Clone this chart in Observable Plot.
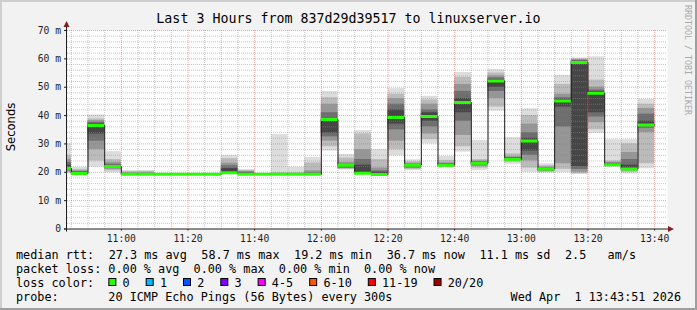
<!DOCTYPE html>
<html><head><meta charset="utf-8">
<script src="https://cdn.jsdelivr.net/npm/d3@7"></script>
<script src="https://cdn.jsdelivr.net/npm/@observablehq/plot@0.6"></script>
<style>
html,body{margin:0;padding:0;background:#f2f2f2;}
#chart{width:697px;height:310px;}
text{white-space:pre;}
</style></head><body><div id="chart"></div>
<script>
// ---- data ----
const times = ["10:40","10:45","10:50","10:55","11:00","11:05","11:10","11:15","11:20","11:25","11:30","11:35","11:40","11:45","11:50","11:55","12:00","12:05","12:10","12:15","12:20","12:25","12:30","12:35","12:40","12:45","12:50","12:55","13:00","13:05","13:10","13:15","13:20","13:25","13:30","13:35"];
const median = [21.4,19.6,36.5,22.0,19.3,19.3,19.3,19.3,19.3,19.3,19.8,19.3,19.3,19.3,19.3,19.3,38.6,22.5,19.7,19.2,39.3,22.5,39.7,22.5,44.6,23.2,52.2,24.6,31.0,21.2,45.1,58.7,47.9,22.7,21.2,36.7];
// smoke bands, outermost (1) to innermost (5)
const lo1 = [19.5,19.3,21.8,19.8,19.2,19.2,19.1,19.1,19.1,19.1,19.4,19.1,19.1,19.2,19.2,19.2,27.5,20.8,19.4,19.1,25.8,20.6,30.0,21.6,27.1,20.6,41.6,22.8,20.0,19.7,19.9,19.2,33.7,21.8,19.4,21.2];
const hi1 = [30.1,21.7,40.2,27.3,20.6,20.6,19.6,19.6,19.6,19.6,25.9,21.0,19.6,33.3,21.8,25.2,48.5,26.3,34.7,28.0,49.5,24.4,46.8,25.6,55.2,31.2,56.2,32.2,42.4,23.0,54.2,60.3,60.7,31.5,31.5,45.7];
const lo2 = [19.8,19.4,24.0,20.5,19.2,19.2,19.2,19.2,19.2,19.2,19.5,19.2,19.2,19.2,19.2,19.2,29.0,21.0,19.5,19.2,28.0,21.0,31.5,21.8,29.0,21.5,43.0,23.5,21.5,20.0,21.0,19.5,35.0,22.0,20.0,23.0];
const hi2 = [26.0,21.0,38.8,24.5,20.2,20.3,19.5,19.5,19.5,19.5,24.8,20.6,19.5,19.8,19.8,23.3,46.3,25.0,33.5,24.5,47.5,23.7,45.5,24.2,53.5,24.5,55.0,26.5,40.0,22.3,51.0,60.0,52.5,24.0,30.0,44.0];
const lo3 = [20.2,19.5,28.0,21.0,19.2,19.2,19.2,19.2,19.2,19.2,19.6,19.2,19.2,19.2,19.2,19.2,31.0,21.3,19.6,19.3,31.0,21.3,33.5,22.0,33.0,22.0,46.0,24.0,24.0,20.3,23.0,20.0,37.5,22.3,20.5,34.0];
const hi3 = [24.5,20.5,38.2,23.5,19.8,19.8,19.4,19.4,19.4,19.4,23.2,20.3,19.4,19.6,19.6,20.5,44.0,23.5,28.0,21.5,46.0,23.2,44.0,23.3,51.0,24.0,54.0,25.5,37.0,21.8,47.5,59.7,50.0,23.5,27.0,42.5];
const lo4 = [20.6,19.6,31.0,21.4,19.2,19.2,19.2,19.2,19.2,19.2,19.7,19.3,19.2,19.3,19.3,19.3,32.5,21.5,19.7,19.4,35.0,21.6,36.0,22.1,38.0,22.5,48.5,24.3,26.0,20.5,36.0,21.0,39.5,22.4,20.8,35.5];
const hi4 = [23.5,20.2,37.6,22.8,19.6,19.6,19.4,19.4,19.4,19.4,22.3,20.0,19.4,19.5,19.5,19.8,41.0,22.8,24.5,20.5,44.0,22.8,42.0,23.0,48.5,23.7,53.3,25.2,34.0,21.5,46.3,59.4,49.0,23.2,24.5,40.5];
const lo5 = [21.0,19.6,33.5,21.7,19.2,19.2,19.2,19.2,19.2,19.2,19.8,19.3,19.2,19.3,19.3,19.3,33.8,21.8,19.8,19.4,37.0,21.9,38.0,22.2,41.0,22.8,50.0,24.5,27.5,20.7,43.0,22.0,41.0,22.5,21.0,36.3];
const hi5 = [22.5,20.0,37.0,22.4,19.5,19.5,19.4,19.4,19.4,19.4,21.3,19.7,19.4,19.4,19.4,19.5,38.8,22.3,22.5,20.0,42.0,22.6,41.0,22.8,46.0,23.5,52.7,25.0,32.0,21.3,45.8,59.1,48.5,23.0,22.5,38.0];
const smokeColors = ["#dddddd","#bbbbbb","#969696","#6e6e6e","#464646"];

const yTicks = [0,10,20,30,40,50,60,70];
const yTickLabels = ["0","10 m","20 m","30 m","40 m","50 m","60 m","70 m"];
const xTickLabels = ["11:00","11:20","11:40","12:00","12:20","12:40","13:00","13:20","13:40"];

const titleText = "Last 3 Hours from 837d29d39517 to linuxserver.io";
const yLabel = "Seconds";
const rttItems = ["median rtt:","27.3 ms avg","58.7 ms max","19.2 ms min","36.7 ms now","11.1 ms sd","2.5   am/s"];
const lossLine = "packet loss: 0.00 % avg  0.00 % max  0.00 % min  0.00 % now";
const lossLabels = ["0","1","2","3","4-5","6-10","11-19","20/20"];
const lossColors = ["#26ff00","#00b8ff","#0059ff","#7e00ff","#ff00ff","#ff5500","#ff0000","#a10000"];
const probeLine = "probe:       20 ICMP Echo Pings (56 Bytes) every 300s";
const dateText = "Wed Apr  1 13:43:51 2026";
const watermark = "RRDTOOL / TOBI OETIKER";

// ---- build ----
const T = s => { const [h,m,sec=0] = s.split(":").map(Number); return new Date(Date.UTC(2026,3,1,h,m,sec)); };
const STEP = 5*60*1000;
const lows = [lo1,lo2,lo3,lo4,lo5], highs = [hi1,hi2,hi3,hi4,hi5];
const bars = times.map((t,i) => ({t0: T(t), t1: new Date(+T(t)+STEP), med: median[i], lo: lows.map(a=>a[i]), hi: highs.map(a=>a[i])}));
const stepData = bars.map(b => ({t: b.t0, v: b.med})).concat([{t: bars[bars.length-1].t1, v: bars[bars.length-1].med}]);

const tStart = T("10:43:51"), tEnd = T("13:43:51");
const xTicks = xTickLabels.map(T);
const xLabelMap = new Map(xTicks.map((d,i)=>[+d, xTickLabels[i]]));
const yLabelMap = new Map(yTicks.map((d,i)=>[d, yTickLabels[i]]));
const all5 = d3.utcMinute.every(5).range(tStart, tEnd);
const xMinor = all5.filter(d => d.getUTCMinutes() % 20 !== 0);
const xMajor = all5.filter(d => d.getUTCMinutes() % 20 === 0);
const yMinor = d3.range(2, 70, 2).filter(v => v % 10 !== 0);
const yMajor = yTicks.filter(v => v > 0);

const W = 697, H = 310;
const ML = 67, MR = 30, MT = 30, MB = 81.5;
const gridMinor = {stroke: "#8f8f8f", strokeOpacity: 0.5, strokeDasharray: "1,1", strokeWidth: 1};
const gridMajor = {stroke: "#de5050", strokeOpacity: 0.5, strokeDasharray: "1,1", strokeWidth: 1};

const plot = Plot.plot({
  width: W, height: H,
  marginLeft: ML, marginRight: MR, marginTop: MT, marginBottom: MB,
  style: {background: "#f2f2f2", fontFamily: "'DejaVu Sans Mono', monospace", fontSize: "9.7px", color: "#1f1f1f", overflow: "visible"},
  x: {type: "utc", domain: [tStart, tEnd], ticks: xTicks, tickFormat: d => xLabelMap.get(+d), tickSize: 2, tickPadding: 4, label: null},
  y: {domain: [0, 70], ticks: yTicks, tickFormat: d => yLabelMap.get(d), tickSize: 3, tickPadding: 3.5, label: null},
  marks: [
    Plot.frame({fill: "#ffffff", stroke: null}),
    ...smokeColors.map((c,k) => Plot.rect(bars, {x1: "t0", x2: "t1", y1: d => d.lo[k], y2: d => d.hi[k], fill: c, clip: true})),
    Plot.ruleY(yMinor, gridMinor),
    Plot.ruleX(xMinor, gridMinor),
    Plot.ruleY(yMajor, gridMajor),
    Plot.ruleX(xMajor, gridMajor),
    Plot.line(stepData, {x: "t", y: "v", curve: "step-after", stroke: "#202020", strokeWidth: 1, clip: true}),
    Plot.ruleY(bars, {y: "med", x1: "t0", x2: "t1", stroke: lossColors[0], strokeWidth: 3, clip: true})
  ]
});
document.getElementById("chart").appendChild(plot);

// ---- decorations, title, legend ----
const svg = d3.select(plot);
const x0 = ML, x1 = W - MR, y0 = H - MB, yTop = MT;
// outer frame shading
svg.append("line").attr("x1",0).attr("x2",W).attr("y1",1).attr("y2",1).attr("stroke","#cfcfcf").attr("stroke-width",2);
svg.append("line").attr("x1",1).attr("x2",1).attr("y1",0).attr("y2",H).attr("stroke","#cfcfcf").attr("stroke-width",2);
svg.append("line").attr("x1",0).attr("x2",W).attr("y1",H-1).attr("y2",H-1).attr("stroke","#9e9e9e").attr("stroke-width",2);
svg.append("line").attr("x1",W-1).attr("x2",W-1).attr("y1",0).attr("y2",H).attr("stroke","#9e9e9e").attr("stroke-width",2);
// axes lines
svg.append("line").attr("x1",x0-3).attr("x2",x1+2).attr("y1",y0+0.5).attr("y2",y0+0.5).attr("stroke","#1f1f1f");
svg.append("line").attr("x1",x0-0.5).attr("x2",x0-0.5).attr("y1",y0+3).attr("y2",yTop-4).attr("stroke","#1f1f1f");
svg.append("path").attr("d",`M${x1+1},${y0-2.5}L${x1+7},${y0+0.5}L${x1+1},${y0+3.5}Z`).attr("fill","#801f1f");
svg.append("path").attr("d",`M${x0-3.5},${yTop-3}L${x0-0.5},${yTop-9}L${x0+2.5},${yTop-3}Z`).attr("fill","#801f1f");

const mono = "'DejaVu Sans Mono', monospace";
svg.append("text").attr("x",W/2).attr("y",23.3).attr("text-anchor","middle")
  .attr("font-family",mono).attr("font-size","13.3px").attr("fill","#000").text(titleText);
svg.append("text").attr("transform","translate(15,127) rotate(-90)").attr("text-anchor","middle")
  .attr("font-family","'DejaVu Sans', sans-serif").attr("font-size","11.6px").attr("fill","#000").text(yLabel);
svg.append("text").attr("transform","translate(685,5) rotate(90)").attr("text-anchor","start")
  .attr("font-family",mono).attr("font-size","8.3px").attr("fill","#aaaaaa").text(watermark);

const LFS = "11.8px";
const legendText = (x, y, s, anchor="start") => svg.append("text").attr("x",x).attr("y",y)
  .attr("text-anchor",anchor).attr("font-family",mono).attr("font-size",LFS).attr("fill","#000")
  .attr("xml:space","preserve").text(s);
// line 1 justified from 16 to 636
const items = rttItems.map(s => legendText(0, 258.5, s));
const widths = items.map(t => t.node().getComputedTextLength());
const gap = (636 - 16 - d3.sum(widths)) / (items.length - 1);
let cx = 16;
items.forEach((t,i) => { t.attr("x", cx); cx += widths[i] + gap; });
// line 2
legendText(16, 272.5, lossLine);
// line 3
const lc = legendText(16, 286.5, "loss color:");
const cw = lc.node().getComputedTextLength() / 11;
let bx = 16 + 13*cw;
lossLabels.forEach((lab,i) => {
  svg.append("rect").attr("x",bx+0.5).attr("y",278.5).attr("width",7).attr("height",7)
    .attr("fill",lossColors[i]).attr("stroke","#000").attr("stroke-width",1);
  const t = legendText(bx + 2*cw, 286.5, lab);
  bx = bx + 2*cw + t.node().getComputedTextLength() + 2*cw + 1.8;
});
// line 4
legendText(16, 300.5, probeLine);
legendText(681, 300.5, dateText, "end");
</script></body></html>
